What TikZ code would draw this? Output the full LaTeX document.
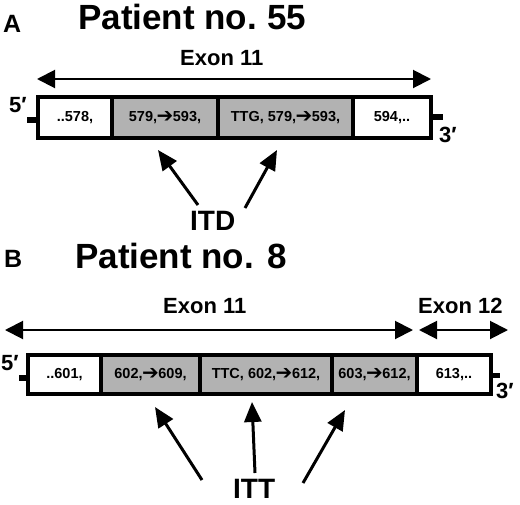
\documentclass[tikz,border=0pt]{standalone}
\usepackage{fontspec}
\setmainfont{Liberation Sans}
\newfontfamily\symf{DejaVu Sans}
\usetikzlibrary{arrows.meta}
\newcommand{\rarr}{{\symf\fontsize{20}{20}\selectfont\kern-0.5pt\raisebox{-0.5pt}{➔}\kern-0.5pt}}
\begin{document}
\begin{tikzpicture}[x=1pt,y=-1pt,
  cellw/.style={draw, line width=4pt, fill=white, inner sep=0pt, outer sep=0pt,
    font=\bfseries\fontsize{14.5}{14.5}\selectfont},
  cellg/.style={cellw, fill=black!30},
  title/.style={anchor=base west, inner sep=0pt, font=\bfseries\fontsize{35}{35}\selectfont},
  panel/.style={anchor=base west, inner sep=0pt, font=\bfseries\fontsize{25}{25}\selectfont},
  exon/.style={anchor=base west, inner sep=0pt, font=\bfseries\fontsize{22}{22}\selectfont},
  prime/.style={anchor=base west, inner sep=0pt, font=\bfseries\fontsize{22}{22}\selectfont},
  mut/.style={anchor=base west, inner sep=0pt, font=\bfseries\fontsize{28}{28}\selectfont},
  span/.style={line width=2pt, {Triangle[length=18pt,width=18pt]}-{Triangle[length=18pt,width=18pt]}},
  ptr/.style={line width=3pt, -{Triangle[length=20pt,width=17pt]}}
]
\useasboundingbox (0,0) rectangle (520,504);

% ---------------- Panel A ----------------
\node[panel] (pA) at (3,32) {A};
\node[title] (tA) at (78,29) {Patient no. \kern-3pt55};
\node[exon] (eA) at (180,65) {Exon 11};
\coordinate (eAl) at (37,79);
\coordinate (eAr) at (431,79);
\draw[span] (eAl) -- (eAr);

\fill (27,117) rectangle (38,123);
\fill (431,114) rectangle (443,120);
\node[prime] (p5A) at (9,112) {5′};
\node[prime] (p3A) at (439,142) {3′};

\node[cellw, minimum width=74pt, minimum height=41pt] (a1) at (75,117.5) {..578,};
\node[cellg, minimum width=106pt, minimum height=41pt] (a2) at (165,117.5) {579,\rarr593,};
\node[cellg, minimum width=135pt, minimum height=41pt] (a3) at (285.5,117.5) {TTG, 579,\rarr593,};
\node[cellw, minimum width=78pt, minimum height=41pt] (a4) at (392,117.5) {594,..};

\node[mut] (itd) at (190,230) {ITD};
\coordinate (itdL) at (198,205);
\coordinate (itdR) at (245,208);
\coordinate (tA1) at (158,150);
\coordinate (tA2) at (277,150);
\draw[ptr] (itdL) -- (tA1);
\draw[ptr] (itdR) -- (tA2);

% ---------------- Panel B ----------------
\node[panel] (pB) at (4,267) {B};
\node[title] (tB) at (75,268) {Patient no. 8};
\node[exon] (eB1) at (163,313) {Exon 11};
\node[exon] (eB2) at (418,313) {Exon 12};
\coordinate (eB1l) at (5,330);
\coordinate (eB1r) at (413,330);
\coordinate (eB2l) at (419,330);
\coordinate (eB2r) at (508,330);
\draw[span] (eB1l) -- (eB1r);
\draw[span] (eB2l) -- (eB2r);

\fill (19,375) rectangle (28,381);
\fill (491,373) rectangle (500,378);
\node[prime] (p5B) at (1,370) {5′};
\node[prime] (p3B) at (496,398) {3′};

\node[cellw, minimum width=73pt, minimum height=39pt] (b1) at (64.5,374.5) {..601,};
\node[cellg, minimum width=99pt, minimum height=39pt] (b2) at (150.5,374.5) {602,\rarr609,};
\node[cellg, minimum width=132pt, minimum height=39pt] (b3) at (266,374.5) {TTC, 602,\rarr612,};
\node[cellg, minimum width=85pt, minimum height=39pt] (b4) at (374.5,374.5) {603,\rarr612,};
\node[cellw, minimum width=74pt, minimum height=39pt] (b5) at (454,374.5) {613,..};

\node[mut] (itt) at (233,498) {ITT};
\coordinate (ittL) at (202,480);
\coordinate (ittM) at (255,473);
\coordinate (ittR) at (303,483);
\coordinate (tB1) at (155,407);
\coordinate (tB2) at (252,402);
\coordinate (tB3) at (345,410);
\draw[ptr] (ittL) -- (tB1);
\draw[ptr] (ittM) -- (tB2);
\draw[ptr] (ittR) -- (tB3);
\end{tikzpicture}
\end{document}
